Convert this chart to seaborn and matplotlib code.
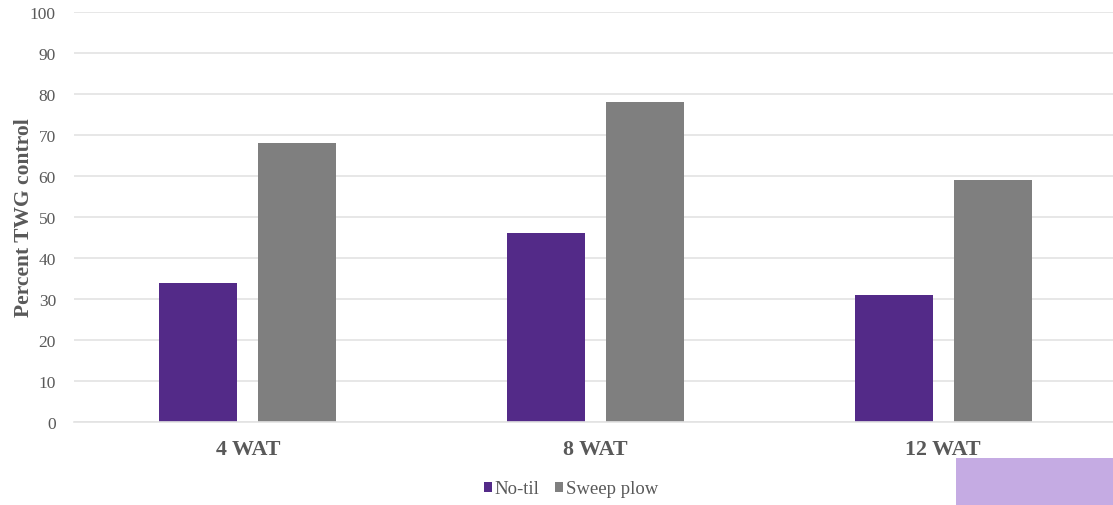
import matplotlib
matplotlib.use("Agg")
import matplotlib.pyplot as plt
from matplotlib.patches import Rectangle
import pandas as pd
import seaborn as sns

# Weed control by timing and tillage treatment
timings = ["4 WAT", "8 WAT", "12 WAT"]
treatments = ["No-til", "Sweep plow"]
no_til = [34, 46, 31]
sweep_plow = [68, 78, 59]
y_ticks = [0, 10, 20, 30, 40, 50, 60, 70, 80, 90, 100]

colors = {"No-til": "#532A88", "Sweep plow": "#7F7F7F"}
text_gray = "#595959"
grid_gray = "#E3E3E3"

df = pd.DataFrame({
    "timing": timings * 2,
    "treatment": [treatments[0]] * 3 + [treatments[1]] * 3,
    "value": no_til + sweep_plow,
})

sns.set_theme(style="white")
plt.rcParams["font.family"] = ["Liberation Serif", "DejaVu Serif"]

W, H = 1113, 506
fig = plt.figure(figsize=(W / 100, H / 100), dpi=100)
ax = fig.add_axes([74 / W, (H - 423) / H, 1043 / W, 410 / H])

sns.barplot(
    data=df, x="timing", y="value", hue="treatment",
    order=timings, hue_order=treatments, palette=colors, saturation=1,
    width=0.569, gap=0.21, errorbar=None, linewidth=0,
    ax=ax, legend=True,
)

ax.set_xlim(-0.5, 2.5)
ax.set_ylim(0, 100)
ax.set_yticks(y_ticks)
ax.yaxis.grid(True, color=grid_gray, linewidth=1.2)
ax.set_axisbelow(True)
for side in ["top", "right", "left"]:
    ax.spines[side].set_visible(False)
ax.spines["bottom"].set_color(grid_gray)
ax.spines["bottom"].set_linewidth(1.2)

ax.tick_params(axis="y", length=0, pad=13, labelsize=12.5, labelcolor=text_gray)
ax.tick_params(axis="x", length=0, pad=12, labelsize=15.8, labelcolor=text_gray)
for lbl in ax.get_xticklabels():
    lbl.set_fontweight("bold")

ax.set_xlabel("")
ax.set_ylabel("Percent TWG control", fontsize=15.5, fontweight="bold",
              color=text_gray, labelpad=-3)

handles, labels = ax.get_legend_handles_labels()
ax.legend_.remove()
fig.legend(
    handles, labels, loc="center", bbox_to_anchor=(571 / W, 1 - 490 / H),
    ncol=2, frameon=False, fontsize=13.5, handlelength=0.45, handleheight=0.45,
    handletextpad=0.15, columnspacing=0.8, labelcolor=text_gray,
)

# lavender block in the lower right corner
fig.patches.append(Rectangle((956 / W, 0), (W - 956) / W, 47 / H,
                             transform=fig.transFigure, facecolor="#C5ABE3",
                             edgecolor="none", zorder=5))

fig.savefig("out.png", dpi=100)
